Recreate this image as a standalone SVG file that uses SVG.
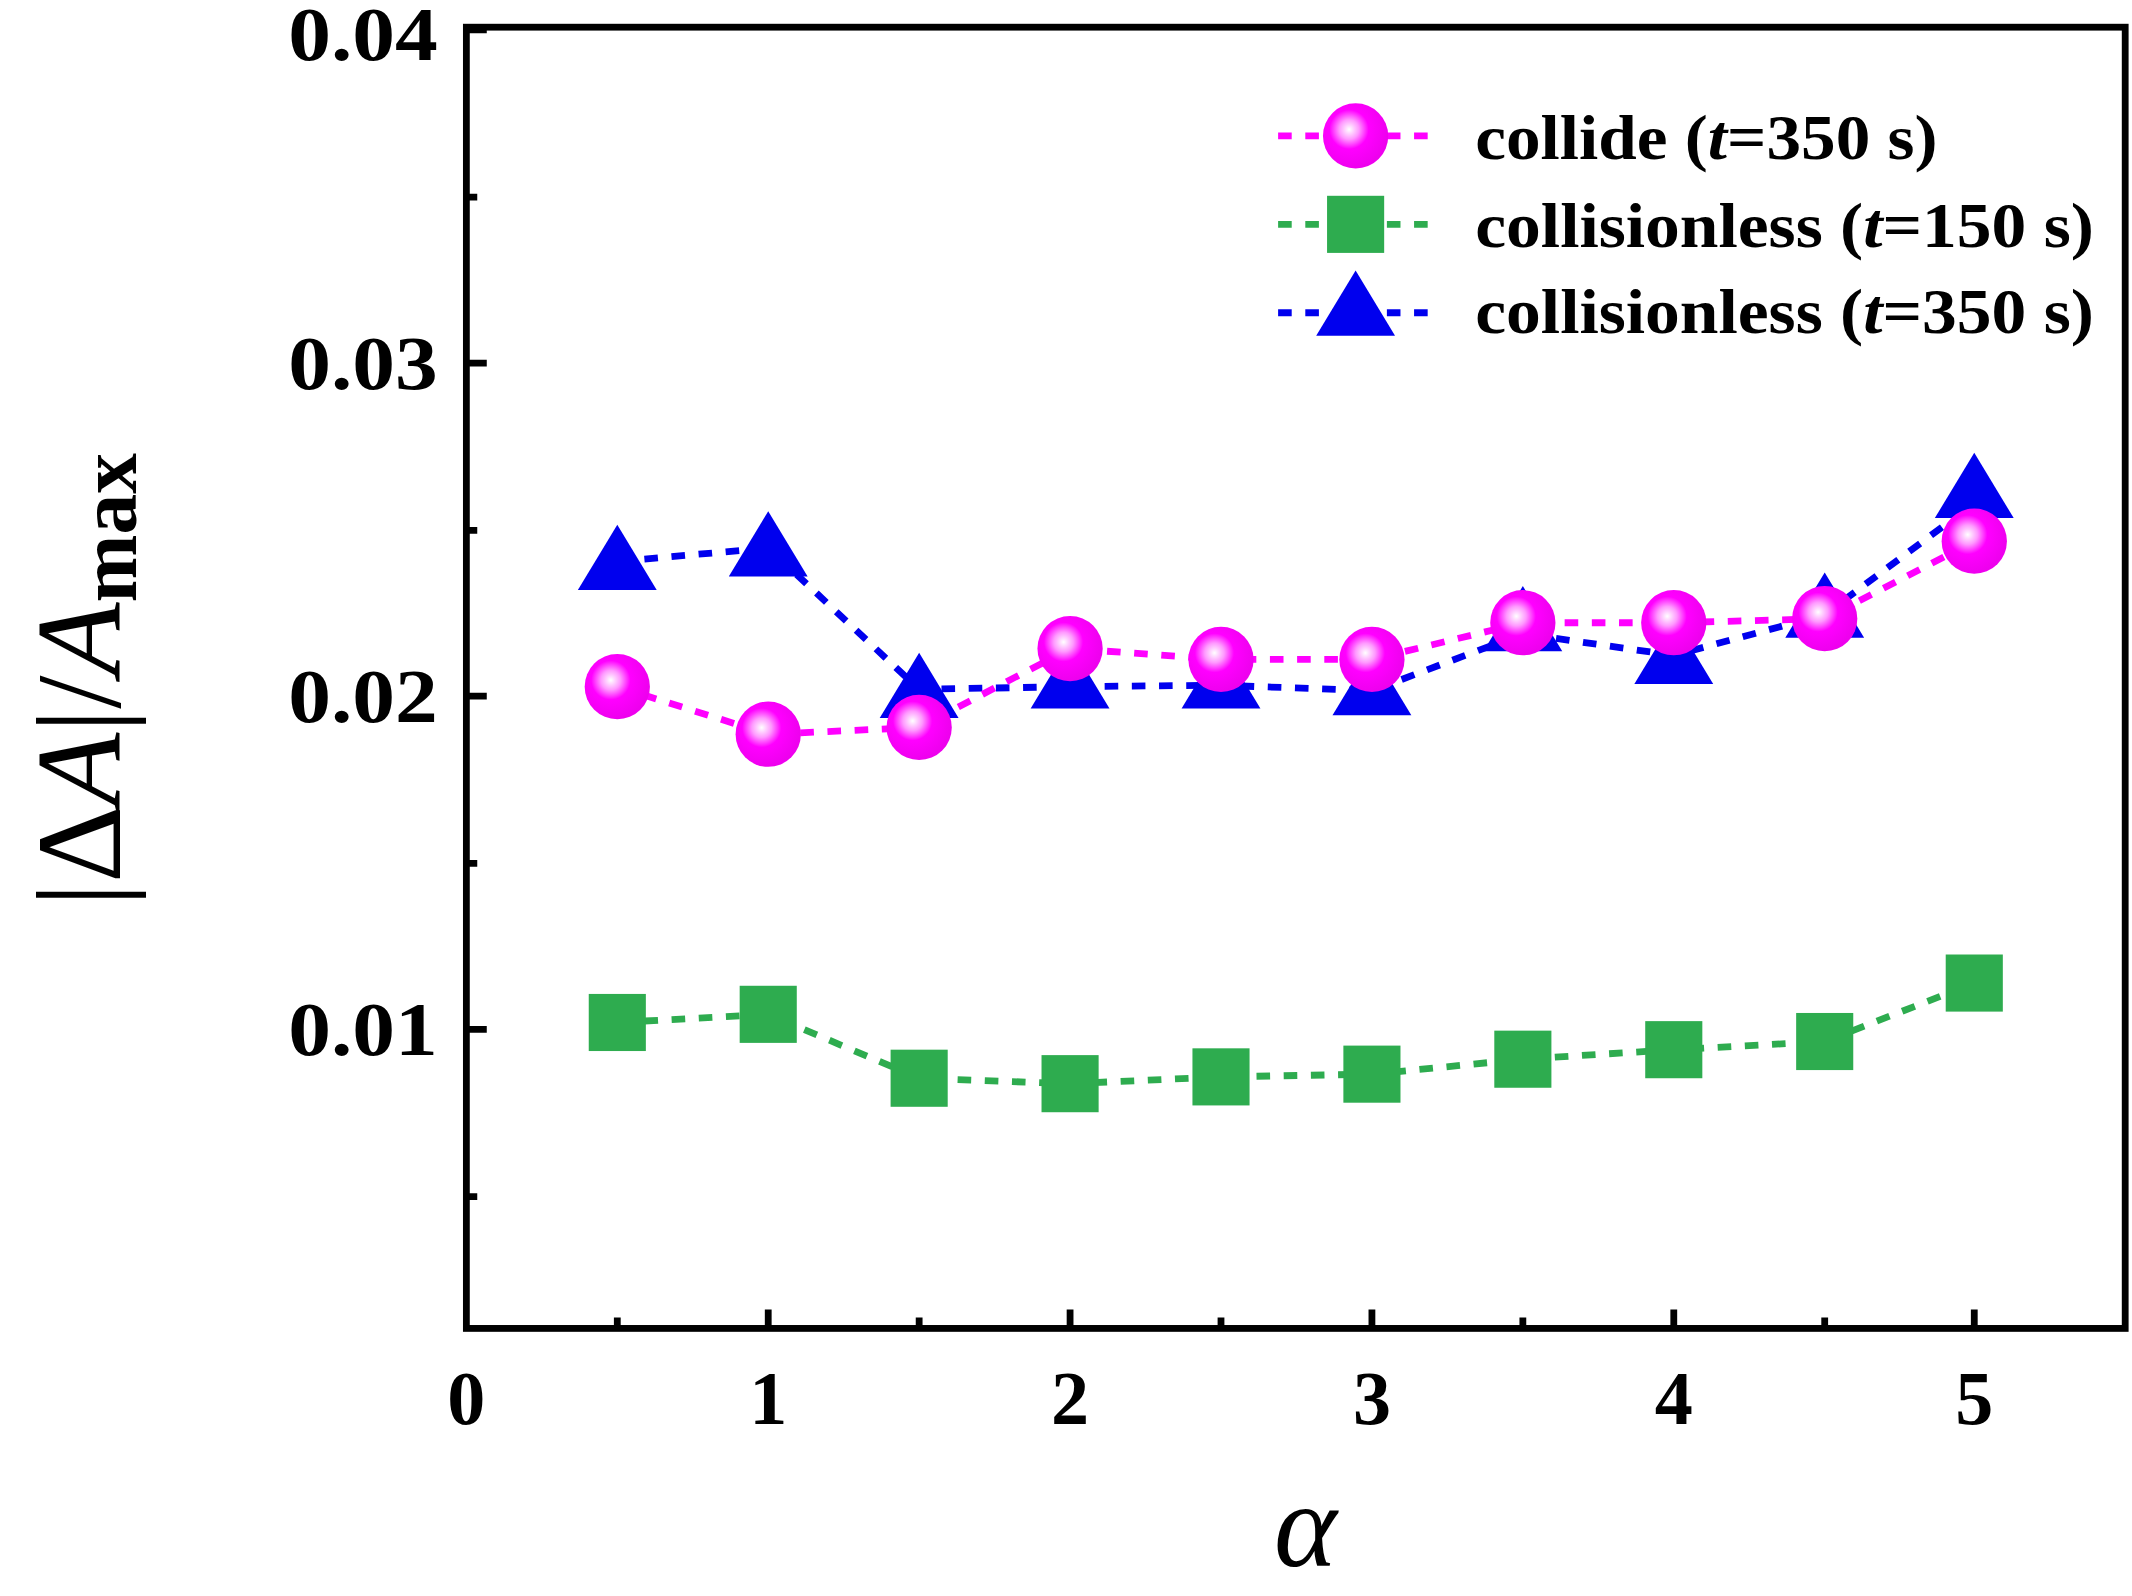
<svg xmlns="http://www.w3.org/2000/svg" width="2132" height="1596" viewBox="0 0 2132 1596">
<defs>
<radialGradient id="g" cx="0.4" cy="0.4" r="0.6">
<stop offset="0" stop-color="#ffffff"/><stop offset="0.25" stop-color="#ff99ff"/><stop offset="0.5" stop-color="#ff00ff"/><stop offset="1" stop-color="#ee00ee"/>
</radialGradient>
<circle id="c" r="24" fill="url(#g)"/>
<rect id="s" x="-21" y="-21" width="42" height="42" fill="#2eac4f"/>
<path id="t" d="M0,-27 L29,21 L-29,21 Z" fill="#0000ee"/>
</defs>
<style>
.tl{font-family:"Liberation Serif",serif;font-weight:bold;font-size:56px;fill:#000}
.lg{font-family:"Liberation Serif",serif;font-weight:bold;font-size:46px;fill:#000}
.ax{stroke:#000;stroke-width:5;fill:none}
.d{fill:none;stroke-width:5;stroke-dasharray:10 10}
</style>
<rect width="2132" height="1596" fill="#fff"/>
<g transform="scale(1.35969)">
<g id="axes">
<rect x="343" y="20" width="1220" height="957" class="ax"/>
<path class="ax" d="M343,22h15M343,267h15M343,512h15M343,757h15M343,145h8M343,390h8M343,635h8M343,880h8M565,977v-14M787,977v-14M1009,977v-14M1231,977v-14M1452,977v-14M454,977v-8M676,977v-8M898,977v-8M1120,977v-8M1342,977v-8"/>
<g class="tl" text-anchor="end"><text x="322" y="44" textLength="110" lengthAdjust="spacingAndGlyphs">0.04</text><text x="322" y="286" textLength="110" lengthAdjust="spacingAndGlyphs">0.03</text><text x="322" y="531" textLength="110" lengthAdjust="spacingAndGlyphs">0.02</text><text x="322" y="776" textLength="110" lengthAdjust="spacingAndGlyphs">0.01</text></g>
<g class="tl" text-anchor="middle"><text x="343" y="1047">0</text><text x="565" y="1047">1</text><text x="787" y="1047">2</text><text x="1009" y="1047">3</text><text x="1231" y="1047">4</text><text x="1452" y="1047">5</text></g>
<text x="960" y="1152" text-anchor="middle" font-family="Liberation Serif,serif" font-style="italic" font-size="88">α</text>
<text transform="translate(88,500) rotate(-90)" text-anchor="middle" font-family="Liberation Serif,serif" font-size="88">|Δ<tspan font-style="italic">A</tspan>|/<tspan font-style="italic">A</tspan><tspan font-size="60" font-weight="bold" dy="12">max</tspan></text>
</g>
<g id="connectors">
<polyline class="d" stroke="#2eac4f" points="454,752 565,746 676,793 787,797 898,792 1009,790 1120,779 1231,772 1342,766 1452,723"/>
<polyline class="d" stroke="#0000ee" points="454,413 565,403 676,507 787,505 898,504 1009,508 1120,466 1231,482 1342,452 1452,370"/>
<polyline class="d" stroke="#ff00ff" points="454,505 565,540 676,535 787,477 898,485 1009,485 1120,458 1231,458 1342,455 1452,398"/>
<line class="d" stroke="#ff00ff" x1="940" y1="100" x2="1050" y2="100"/>
<line class="d" stroke="#2eac4f" x1="940" y1="165" x2="1050" y2="165"/>
<line class="d" stroke="#0000ee" x1="940" y1="230" x2="1050" y2="230"/>
</g>
<g id="squares">
<use href="#s" x="454" y="752"/><use href="#s" x="565" y="746"/><use href="#s" x="676" y="793"/><use href="#s" x="787" y="797"/><use href="#s" x="898" y="792"/><use href="#s" x="1009" y="790"/><use href="#s" x="1120" y="779"/><use href="#s" x="1231" y="772"/><use href="#s" x="1342" y="766"/><use href="#s" x="1452" y="723"/>
</g>
<g id="triangles">
<use href="#t" x="454" y="413"/><use href="#t" x="565" y="403"/><use href="#t" x="676" y="507"/><use href="#t" x="787" y="500"/><use href="#t" x="898" y="500"/><use href="#t" x="1009" y="505"/><use href="#t" x="1120" y="458"/><use href="#t" x="1231" y="482"/><use href="#t" x="1342" y="448"/><use href="#t" x="1452" y="360"/>
</g>
<g id="circles">
<use href="#c" x="454" y="505"/><use href="#c" x="565" y="540"/><use href="#c" x="676" y="535"/><use href="#c" x="787" y="477"/><use href="#c" x="898" y="485"/><use href="#c" x="1009" y="485"/><use href="#c" x="1120" y="458"/><use href="#c" x="1231" y="458"/><use href="#c" x="1342" y="455"/><use href="#c" x="1452" y="398"/>
</g>
<g id="legend">
<use href="#c" x="997" y="100"/><use href="#s" x="997" y="165"/><use href="#t" x="997" y="226"/>
<text class="lg" x="1085" y="117" textLength="340" lengthAdjust="spacingAndGlyphs">collide (<tspan font-style="italic">t</tspan>=350 s)</text>
<text class="lg" x="1085" y="182" textLength="455" lengthAdjust="spacingAndGlyphs">collisionless (<tspan font-style="italic">t</tspan>=150 s)</text>
<text class="lg" x="1085" y="245" textLength="455" lengthAdjust="spacingAndGlyphs">collisionless (<tspan font-style="italic">t</tspan>=350 s)</text>
</g>
</g>
</svg>
